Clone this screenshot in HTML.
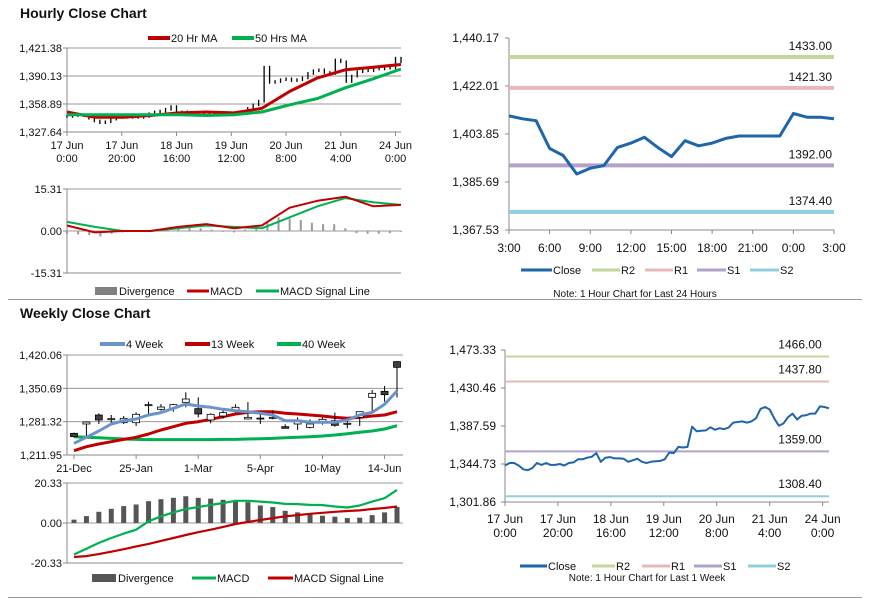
<!DOCTYPE html>
<html><head><meta charset="utf-8"><style>
html,body{margin:0;padding:0;background:#fff;}
svg{display:block;font-family:"Liberation Sans",sans-serif;}
</style></head><body>
<svg id="root" width="873" height="601" viewBox="0 0 873 601" xmlns="http://www.w3.org/2000/svg">
<text x="20" y="18" font-size="14" font-weight="bold" fill="#111">Hourly Close Chart</text>
<text x="20" y="318" font-size="14" font-weight="bold" fill="#111">Weekly Close Chart</text>
<line x1="8" y1="299.5" x2="862" y2="299.5" stroke="#999" stroke-width="1"/>
<line x1="8" y1="597.5" x2="862" y2="597.5" stroke="#999" stroke-width="1"/>
</svg>
<script>
// ---------- DATA ----------
const hourlyCloses=[1345,1346,1347,1346,1343,1340,1338,1339,1342,1344,1345,1344,1345,1344,1345,1348,1350,1351,1353,1356,1350,1350,1349,1348,1348,1348,1347,1348,1348,1347,1348,1348,1349,1354,1358,1362,1400,1383,1384,1386,1387,1385,1386,1388,1393,1396,1397,1394,1393,1408,1406,1384,1390,1395,1397,1396,1398,1398,1400,1399,1410,1406];
const hourlyMA20=[1350,1344,1344,1346,1349,1350,1349,1354,1373,1388,1397,1400,1403];
const hourlyMA50=[1347,1347,1347,1347,1347,1346,1347,1350,1358,1365,1377,1387,1398];
const hourlyTicks=[1327.64,1358.89,1390.13,1421.38];
const hourlyXLabels=[["17 Jun","0:00"],["17 Jun","20:00"],["18 Jun","16:00"],["19 Jun","12:00"],["20 Jun","8:00"],["21 Jun","4:00"],["24 Jun","0:00"]];
const hMacd=[2,-0.5,0,0,1.5,2.5,1,2,8.5,11,12.5,9,9.5];
const hSignal=[3.3,1.5,0,0,1,2,1.5,1,5,9,12,10.5,9.5];
const hDiv=[-1,-1.2,-1.5,-2,-1,-0.5,0,0.3,0.6,0.8,1,1,1,0.5,-0.3,-0.5,0.5,1.5,3,5,4.5,4,3,2.5,2.5,1,-0.8,-1,-1,-0.8,-0.3];
const hMacdTicks=[-15.31,0,15.31];
const dayCloses=[1410.7,1409.6,1408.9,1398.4,1395.7,1388.7,1390.9,1391.9,1398.7,1400.4,1402.6,1398.7,1395.3,1401.3,1399.4,1400.4,1402.2,1403.1,1403.1,1403.1,1403.1,1411.6,1410.2,1410.2,1409.6];
const dayLevels=[1433.00,1421.30,1392.00,1374.40];
const dayTicks=[1367.53,1385.69,1403.85,1422.01,1440.17];
const dayXLabels=["3:00","6:00","9:00","12:00","15:00","18:00","21:00","0:00","3:00"];
const wOpen=[1257.0,1276.5,1295.2,1286.9,1279.2,1279.2,1316.2,1307.0,1309.1,1321.6,1308.4,1284.8,1293.1,1305.6,1286.9,1288.8,1290.0,1270.9,1276.5,1269.5,1281.3,1283.4,1277.5,1290.3,1332.0,1344.4,1406.2];
const wHigh=[1258.4,1282.0,1298.7,1295.2,1293.1,1300.7,1322.9,1318.1,1318.1,1342.4,1332.0,1298.7,1308.4,1317.4,1322.2,1300.1,1304.2,1275.8,1290.3,1286.2,1290.3,1300.1,1284.8,1302.1,1347.2,1355.6,1407.6];
const wLow=[1248.7,1250.1,1276.5,1279.2,1276.5,1272.3,1295.2,1304.2,1302.1,1311.2,1290.3,1277.9,1287.6,1300.1,1286.2,1276.5,1286.2,1267.5,1264.0,1267.5,1275.1,1270.9,1267.5,1272.3,1300.1,1322.9,1332.0];
const wClose=[1250.1,1280.6,1284.8,1287.5,1288.3,1296.6,1316.7,1311.8,1316.7,1328.5,1297.3,1296.6,1300.1,1311.2,1290.3,1288.3,1290.3,1267.5,1284.8,1276.5,1286.2,1273.7,1277.9,1302.1,1340.3,1337.5,1394.4];
const w4=[1236.2,1248.7,1261.9,1276.5,1283.4,1286.9,1295.2,1300.1,1309.1,1318.1,1314.0,1311.2,1307.0,1304.2,1302.1,1298.7,1295.2,1283.4,1283.4,1279.9,1279.9,1279.9,1284.8,1295.2,1300.7,1317.4,1345.1];
const w13=[1220.9,1229.3,1234.8,1239.7,1244.5,1248.7,1255.6,1264.0,1270.9,1277.9,1281.3,1286.2,1291.7,1297.3,1300.7,1302.1,1302.1,1298.7,1297.3,1295.2,1293.1,1290.3,1288.3,1290.3,1293.1,1295.2,1302.1];
const w40=[1250.1,1248.7,1248.0,1246.6,1245.2,1244.5,1243.9,1243.9,1243.9,1243.9,1243.9,1243.9,1244.5,1244.5,1245.2,1245.9,1246.6,1248.0,1248.7,1250.1,1251.5,1253.6,1256.3,1259.1,1261.9,1266.1,1273.0];
const weeklyTicks=[1211.95,1281.32,1350.69,1420.06];
const weeklyXLabels=["21-Dec","25-Jan","1-Mar","5-Apr","10-May","14-Jun"];
const wMacd=[-16.0,-13.1,-10.1,-7.6,-5.4,-3.4,0.8,3.4,5.4,7.1,8.1,9.2,10.1,11.3,11.3,10.9,10.4,9.7,9.6,9.2,9.1,8.4,7.9,8.9,10.9,12.6,16.8];
const wSignal=[-17.3,-16.8,-15.8,-14.6,-13.3,-11.9,-10.6,-9.1,-7.6,-6.1,-4.7,-3.4,-2.0,-0.5,0.5,1.5,2.5,3.4,4.0,4.7,5.2,5.7,6.1,6.4,7.1,7.6,8.4];
const wDiv=[1.7,3.5,5.7,7.2,8.6,9.4,11.1,12.1,12.8,13.6,12.8,12.4,11.8,10.9,10.6,8.9,8.1,6.2,5.4,4.7,3.7,3.2,2.5,2.7,4.0,5.4,8.2];
const wMacdTicks=[-20.33,0,20.33];
const weekCloses=[1343.0,1345.8,1345.8,1343.0,1338.8,1337.7,1340.2,1345.8,1343.7,1345.8,1343.7,1343.7,1344.7,1343.0,1345.8,1346.5,1350.0,1350.0,1351.8,1352.8,1357.0,1347.2,1351.8,1352.5,1351.0,1351.0,1350.7,1347.2,1348.9,1350.7,1347.2,1345.8,1347.2,1347.9,1348.2,1350.0,1357.7,1357.0,1364.0,1363.3,1364.0,1386.8,1381.6,1382.3,1382.6,1386.1,1383.3,1385.1,1384.0,1385.8,1391.4,1392.1,1392.8,1391.4,1392.8,1396.3,1406.9,1409.0,1406.2,1396.3,1387.9,1390.4,1397.4,1401.6,1394.9,1399.1,1399.8,1401.6,1401.6,1409.7,1409.0,1407.6];
const weekLevels=[1466.00,1437.80,1359.00,1308.40];
const weekTicks=[1301.86,1344.73,1387.59,1430.46,1473.33];
const weekXLabels=[["17 Jun","0:00"],["17 Jun","20:00"],["18 Jun","16:00"],["19 Jun","12:00"],["20 Jun","8:00"],["21 Jun","4:00"],["24 Jun","0:00"]];
const weekLabelStep=11.6;

// ---------- HELPERS ----------
const NS="http://www.w3.org/2000/svg";
const root=document.getElementById('root');
function mk(tag,attrs,parent){const e=document.createElementNS(NS,tag);for(const k in attrs)e.setAttribute(k,attrs[k]);(parent||root).appendChild(e);return e;}
function lin(d0,d1,r0,r1){return v=>r0+(v-d0)*(r1-r0)/(d1-d0);}
function fmt(v){return v.toLocaleString('en-US',{minimumFractionDigits:2,maximumFractionDigits:2});}
function group(name){const g=mk('g',{});return g;}
function polyline(g,xs,ys,color,w,name){const pts=xs.map((x,i)=>x.toFixed(1)+','+ys[i].toFixed(1)).join(' ');const p=mk('polyline',{points:pts,fill:'none',stroke:color,'stroke-width':w,'stroke-linejoin':'round'},g);return p;}
function text(g,x,y,s,size,anchor,name,col){const t=mk('text',{x:x,y:y,'font-size':size,'text-anchor':anchor||'start',fill:col||'#111'},g);t.textContent=s;return t;}
function yAxis(g,ticks,ys,x0,x1,lx,size,grid){ticks.forEach(v=>{const y=ys(v);if(grid){const l=mk('line',{x1:x0,x2:x1,y1:y,y2:y,stroke:'#999','stroke-width':1},g);}const tk=mk('line',{x1:x0-4,x2:x0,y1:y,y2:y,stroke:'#888'},g);text(g,lx,y+4,fmt(v),size,'end','y-tick-label');});}
function axisLines(g,x0,x1,yTop,yBot,yBase){const a=mk('line',{x1:x0,x2:x0,y1:yTop,y2:yBot,stroke:'#888'},g);const b=mk('line',{x1:x0,x2:x1,y1:yBase,y2:yBase,stroke:'#888'},g);}
function legLine(g,x,y,len,color,w,label,name){const l=mk('line',{x1:x,x2:x+len,y1:y,y2:y,stroke:color,'stroke-width':w},g);text(g,x+len+1,y+4,label,11,'start',name+'-label');}
function legRect(g,x,y,len,color,label,name){const r=mk('rect',{x:x,y:y-4,width:len,height:8,fill:color},g);text(g,x+len+2,y+4,label,11,'start',name+'-label');}

// ---------- PANEL A: hourly candles ----------
(function(){const g=group('hourly-price-chart');
const xs=lin(0,hourlyCloses.length-1,67,401), ys=lin(1327.64,1421.38,132,48);
yAxis(g,hourlyTicks,ys,67,401,62,11,true);axisLines(g,67,401,48,132,132);
hourlyCloses.forEach((c,i)=>{const p=i?hourlyCloses[i-1]:c;const lo=Math.min(p,c)-1.5,hi=Math.max(p,c)+1.5;
const l=mk('line',{x1:xs(i),x2:xs(i),y1:ys(lo),y2:ys(hi),stroke:'#000','stroke-width':1.3},g);

});
const mx=lin(0,hourlyMA20.length-1,67,401);
polyline(g,hourlyMA20.map((v,i)=>mx(i)),hourlyMA20.map(ys),'#c00000',3,'ma20-line');
polyline(g,hourlyMA50.map((v,i)=>mx(i)),hourlyMA50.map(ys),'#00b050',3,'ma50-line');
hourlyXLabels.forEach((lb,k)=>{const x=xs(k*10);const t=mk('line',{x1:x,x2:x,y1:132,y2:136,stroke:'#888'},g);text(g,x,149,lb[0],11,'middle','x-tick-label');text(g,x,162,lb[1],11,'middle','x-tick-label');});
legLine(g,148,38,22,'#c00000',4,'20 Hr MA','legend-ma20');legLine(g,232,38,22,'#00b050',4,'50 Hrs MA','legend-ma50');
})();

// ---------- PANEL B: hourly MACD ----------
(function(){const g=group('hourly-macd-chart');
const ys=lin(-15.31,15.31,273,189);
yAxis(g,hMacdTicks,ys,67,401,62,11,true);axisLines(g,67,401,189,273,273);
const dx=lin(0,hDiv.length-1,67,401);
hDiv.forEach((v,i)=>{const y0=ys(0),y1=ys(v);const r=mk('rect',{x:dx(i)-1,y:Math.min(y0,y1),width:2,height:Math.abs(y1-y0),fill:'#999'},g);

});
const mx=lin(0,hMacd.length-1,67,401);
polyline(g,hSignal.map((v,i)=>mx(i)),hSignal.map(ys),'#00b050',2,'signal-line');
polyline(g,hMacd.map((v,i)=>mx(i)),hMacd.map(ys),'#c00000',2,'macd-line');
legRect(g,95,291,22,'#808080','Divergence','legend-divergence');legLine(g,187,291,22,'#c00000',3,'MACD','legend-macd');legLine(g,256,291,23,'#00b050',3,'MACD Signal Line','legend-signal');
})();

// ---------- PANEL C: 24h close ----------
(function(){const g=group('daily-close-chart');
const xs=lin(0,dayCloses.length-1,509,834), ys=lin(1367.53,1440.17,230,38);
yAxis(g,dayTicks,ys,509,834,499,12,false);axisLines(g,509,834,38,230,230);
const cols=['#c3d69b','#e6b9b8','#b3a2c7','#93cddd'];
dayLevels.forEach((v,i)=>{const l=mk('line',{x1:509,x2:834,y1:ys(v),y2:ys(v),stroke:cols[i],'stroke-width':4},g);


text(g,832,ys(v)-7,v.toFixed(2),12,'end','level-label');});
polyline(g,dayCloses.map((v,i)=>xs(i)),dayCloses.map(ys),'#1f65aa',3,'close-line');
dayXLabels.forEach((lb,k)=>{const x=xs(k*3);const t=mk('line',{x1:x,x2:x,y1:230,y2:234,stroke:'#888'},g);text(g,x,252,lb,12,'middle','x-tick-label');});
legLine(g,521,270,31,'#1f65aa',3,'Close','legend-close');legLine(g,592,270,28,'#c3d69b',3,'R2','legend-r2');legLine(g,645,270,28,'#e6b9b8',3,'R1','legend-r1');legLine(g,697,270,29,'#b3a2c7',3,'S1','legend-s1');legLine(g,750,270,29,'#93cddd',3,'S2','legend-s2');
text(g,635,297,'Note: 1 Hour Chart for Last 24 Hours',10,'middle','chart-note');
})();

// ---------- PANEL D: weekly candles ----------
(function(){const g=group('weekly-price-chart');
const xs=lin(0,wClose.length-1,74,397), ys=lin(1211.95,1420.06,455,355);
yAxis(g,weeklyTicks,ys,67,403,62,11,true);axisLines(g,67,403,355,455,455);
polyline(g,w40.map((v,i)=>xs(i)),w40.map(ys),'#00b050',3,'week40-line');
polyline(g,w13.map((v,i)=>xs(i)),w13.map(ys),'#c00000',3,'week13-line');
wClose.forEach((c,i)=>{const x=xs(i);const w=mk('line',{x1:x,x2:x,y1:ys(wHigh[i]),y2:ys(wLow[i]),stroke:'#000','stroke-width':1},g);


const top=ys(Math.max(wOpen[i],c)),bot=ys(Math.min(wOpen[i],c));
const r=mk('rect',{x:x-3.5,y:top,width:7,height:Math.max(1,bot-top),fill:c<wOpen[i]?'#404040':'#fff',stroke:'#000','stroke-width':0.8},g);

});
polyline(g,w4.map((v,i)=>xs(i)),w4.map(ys),'#6a93c9',3,'week4-line');
weeklyXLabels.forEach((lb,k)=>{const x=xs(k*5);const t=mk('line',{x1:x,x2:x,y1:455,y2:459,stroke:'#888'},g);text(g,Math.min(x,387),472,lb,11,'middle','x-tick-label');});
legLine(g,100,344,25,'#6a93c9',4,'4 Week','legend-4week');legLine(g,185,344,25,'#c00000',4,'13 Week','legend-13week');legLine(g,277,344,24,'#00b050',4,'40 Week','legend-40week');
})();

// ---------- PANEL E: weekly MACD ----------
(function(){const g=group('weekly-macd-chart');
const xs=lin(0,wMacd.length-1,74,397), ys=lin(-20.33,20.33,563,483);
yAxis(g,wMacdTicks,ys,67,403,62,11,true);axisLines(g,67,403,483,563,563);
wDiv.forEach((v,i)=>{const y0=ys(0),y1=ys(v);const r=mk('rect',{x:xs(i)-2.5,y:Math.min(y0,y1),width:5,height:Math.abs(y1-y0),fill:'#555'},g);

});
polyline(g,wSignal.map((v,i)=>xs(i)),wSignal.map(ys),'#c00000',2.2,'signal-line');
polyline(g,wMacd.map((v,i)=>xs(i)),wMacd.map(ys),'#00b050',2.2,'macd-line');
legRect(g,92,578,24,'#555','Divergence','legend-divergence');legLine(g,192,578,24,'#00b050',3,'MACD','legend-macd');legLine(g,268,578,25,'#c00000',3,'MACD Signal Line','legend-signal');
})();

// ---------- PANEL F: 1-week close ----------
(function(){const g=group('weekly-close-chart');
const xs=lin(0,weekCloses.length-1,505,829), ys=lin(1301.86,1473.33,502,350);
yAxis(g,weekTicks,ys,505,829,496,12,false);axisLines(g,505,829,350,502,502);
const cols=['#c3d69b','#e6b9b8','#b3a2c7','#93cddd'];
weekLevels.forEach((v,i)=>{const l=mk('line',{x1:505,x2:829,y1:ys(v),y2:ys(v),stroke:cols[i],'stroke-width':2},g);


text(g,800,ys(v)-8,v.toFixed(2),12,'middle','level-label');});
polyline(g,weekCloses.map((v,i)=>xs(i)),weekCloses.map(ys),'#1f65aa',2,'close-line');
weekXLabels.forEach((lb,k)=>{const x=xs(k*weekLabelStep);const t=mk('line',{x1:x,x2:x,y1:502,y2:506,stroke:'#888'},g);text(g,x,523,lb[0],12,'middle','x-tick-label');text(g,x,537,lb[1],12,'middle','x-tick-label');});
legLine(g,520,566,27,'#1f65aa',3,'Close','legend-close');legLine(g,592,566,23,'#c3d69b',3,'R2','legend-r2');legLine(g,642,566,28,'#e6b9b8',3,'R1','legend-r1');legLine(g,694,566,28,'#b3a2c7',3,'S1','legend-s1');legLine(g,748,566,28,'#93cddd',3,'S2','legend-s2');
text(g,647,581,'Note: 1 Hour Chart for Last 1 Week',10,'middle','chart-note');
})();
</script>
</body></html>
